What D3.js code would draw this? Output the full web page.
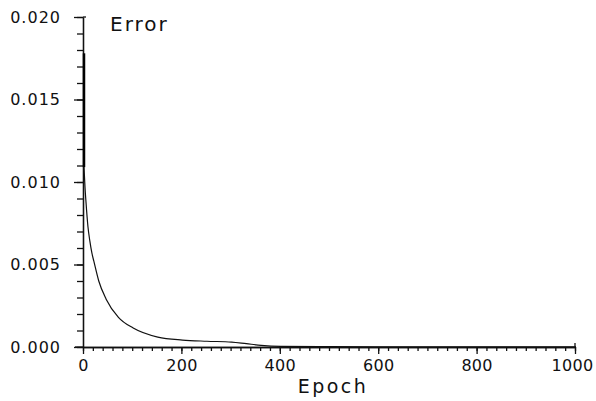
<!DOCTYPE html>
<html>
<head>
<meta charset="utf-8">
<script src="https://cdn.jsdelivr.net/npm/d3@7"></script>
<style>
  body { margin: 0; background: #fff; }
  svg text { font-family: "DejaVu Sans", sans-serif; fill: #111; }
</style>
</head>
<body>
<svg id="chart" width="596" height="401"></svg>
<script>
// training error
var epochs = [0, 0, 2, 4, 8, 12, 16, 20, 30, 45, 70, 100, 150, 200, 250, 300, 330, 360, 400, 500, 600, 800, 1000];
var errors = [0.0178, 0.0109, 0.0097, 0.0088, 0.0073, 0.0064, 0.0057, 0.0052, 0.0040, 0.0029, 0.0018, 0.00115, 0.0006, 0.00042, 0.00035, 0.0003, 0.0002, 0.0001, 0.00004, 0.00002, 0.00001, 0.00001, 0.00001];
var xTicks = [0, 200, 400, 600, 800, 1000];
var yTicks = [0, 0.005, 0.010, 0.015, 0.020];

var svg = d3.select('#chart');

var x = d3.scaleLinear().domain([0, 1000]).range([83, 575]),
    y = d3.scaleLinear().domain([0, 0.020]).range([347, 17]);

// x axis: minor ticks every 20, major every 200, hanging below the line
svg.append('g').attr('transform', 'translate(0,347)')
    .call(d3.axisBottom(x).tickValues(d3.range(0, 1001, 20)).tickSize(4).tickFormat('').tickSizeOuter(0));
var xMajor = svg.append('g').attr('transform', 'translate(0,347)')
    .call(d3.axisBottom(x).tickValues(xTicks).tickSize(7).tickPadding(6).tickSizeOuter(0)
        .tickFormat(d3.format('d')));

// y axis: minor every 0.001, major every 0.005, pointing left
svg.append('g').attr('transform', 'translate(83,0)')
    .call(d3.axisLeft(y).tickValues(d3.range(0, 0.0201, 0.001)).tickSize(6).tickFormat('').tickSizeOuter(0));
var yMajor = svg.append('g').attr('transform', 'translate(83,0)')
    .call(d3.axisLeft(y).tickValues(yTicks).tickSize(9).tickPadding(13).tickSizeOuter(0)
        .tickFormat(d3.format('.3f')));

svg.selectAll('.domain').attr('stroke', '#111').attr('stroke-width', 1.3);
svg.selectAll('.tick line').attr('stroke', '#111').attr('stroke-width', 1.3);
svg.selectAll('.tick text')
    .attr('fill', '#111')
    .style('font-size', '16px')
    .style('font-family', '"DejaVu Sans", sans-serif');
yMajor.selectAll('.tick text').style('letter-spacing', '1px');
xMajor.selectAll('.tick text').style('letter-spacing', '0.3px')
    .attr('dx', function (d) { return d === 1000 ? -3 : 0; });

// x axis line extends a bit to the left of the y axis
svg.append('line')
    .attr('x1', 75).attr('x2', 83).attr('y1', 347).attr('y2', 347)
    .attr('stroke', '#111').attr('stroke-width', 1.3);
// small hooks at the axis ends
svg.append('line')
    .attr('x1', x(1000)).attr('x2', x(1000)).attr('y1', 343).attr('y2', 347)
    .attr('stroke', '#111').attr('stroke-width', 1.3);
svg.append('line')
    .attr('x1', 83).attr('x2', 86).attr('y1', y(0.020)).attr('y2', y(0.020))
    .attr('stroke', '#111').attr('stroke-width', 1.3);

// thick spike at epoch 0
svg.append('line')
    .attr('x1', x(0) + 1).attr('x2', x(0) + 1)
    .attr('y1', y(errors[0])).attr('y2', y(errors[1]))
    .attr('stroke', '#000').attr('stroke-width', 2.5);

svg.append('path')
    .datum(errors.slice(1))
    .attr('fill', 'none')
    .attr('stroke', '#111')
    .attr('stroke-width', 1.2)
    .attr('d', d3.line()
        .x(function (d, i) { return x(epochs[i + 1]) + 1; })
        .y(function (d) { return y(d); })
        .curve(d3.curveMonotoneX));

svg.append('text')
    .attr('x', 110).attr('y', 31)
    .style('font-size', '20px')
    .style('letter-spacing', '2px')
    .text('Error');

svg.append('text')
    .attr('x', 333).attr('y', 393)
    .attr('text-anchor', 'middle')
    .style('font-size', '19px')
    .style('letter-spacing', '2.5px')
    .text('Epoch');
</script>
</body>
</html>
